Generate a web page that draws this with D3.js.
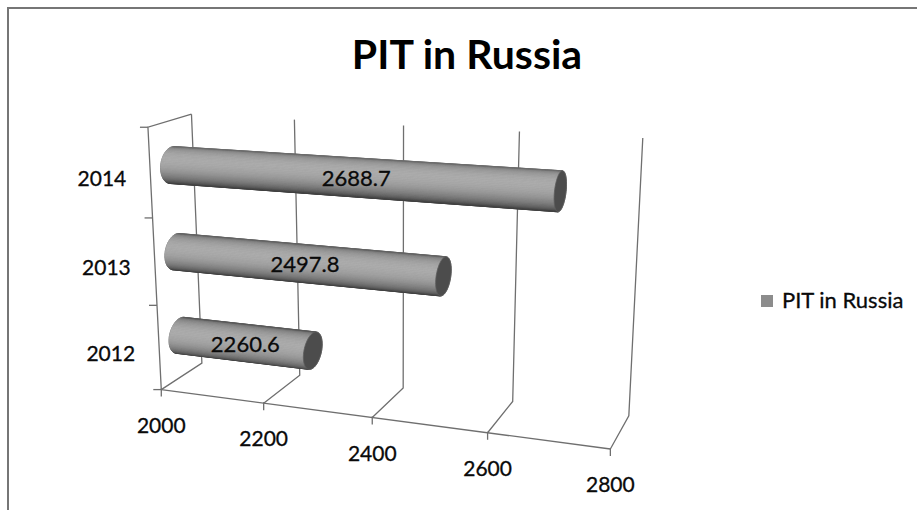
<!DOCTYPE html>
<html>
<head>
<meta charset="utf-8">
<script src="https://cdn.jsdelivr.net/npm/d3@7"></script>
<style>
  html, body { margin: 0; padding: 0; background: #fff; }
  svg { display: block; font-family: Lato, "Open Sans", sans-serif; }
</style>
</head>
<body>
<svg id="chart" width="917" height="510"></svg>
<script>
// ---- data ----
const chartTitle = "PIT in Russia";
const seriesName = "PIT in Russia";
const categories = ["2012", "2013", "2014"];
const values = [2260.6, 2497.8, 2688.7];
const valueTicks = [2000, 2200, 2400, 2600, 2800];

// ---- 3D box: unit cube (value, height, depth) and where its anchors land on screen ----
const boxAnchors = [
  { p: [0, 0, 0],    s: [161, 389] },
  { p: [0.25, 0, 0], s: [264, 403.3] },
  { p: [0.5, 0, 0],  s: [372.5, 418] },
  { p: [0.75, 0, 0], s: [487.3, 433.3] },
  { p: [1, 0, 0],    s: [610, 449] },
  { p: [0, 0, 1],    s: [201.7, 363.3] },
  { p: [0.25, 0, 1], s: [299, 374] },
  { p: [0.5, 0, 1],  s: [405, 386.7] },
  { p: [0.75, 0, 1], s: [512.7, 403.3] },
  { p: [1, 0, 1],    s: [628.3, 415.5] },
  { p: [0, 1, 1],    s: [191, 115.5] },
  { p: [0.25, 1, 1], s: [293.3, 120] },
  { p: [0.5, 1, 1],  s: [405, 125] },
  { p: [0.75, 1, 1], s: [520, 131.7] },
  { p: [1, 1, 1],    s: [642, 137] },
  { p: [0, 1, 0],    s: [148.3, 126.7] }
];

// Least-squares perspective camera (3x4 projective matrix) from the anchors
function fitCamera(anchors) {
  const cx = 450, cy = 260, sc = 300;
  const rows = [], rhs = [];
  anchors.forEach(({ p: [X, Y, Z], s: [u0, v0] }) => {
    const u = (u0 - cx) / sc, v = (v0 - cy) / sc;
    rows.push([X, Y, Z, 1, 0, 0, 0, 0, -u * X, -u * Y, -u * Z]); rhs.push(u);
    rows.push([0, 0, 0, 0, X, Y, Z, 1, -v * X, -v * Y, -v * Z]); rhs.push(v);
  });
  const n = 11;
  const M = d3.range(n).map(() => new Array(n + 1).fill(0));
  rows.forEach((r, k) => {
    for (let i = 0; i < n; i++) {
      for (let j = 0; j < n; j++) M[i][j] += r[i] * r[j];
      M[i][n] += r[i] * rhs[k];
    }
  });
  for (let c = 0; c < n; c++) {
    let piv = c;
    for (let r = c + 1; r < n; r++) if (Math.abs(M[r][c]) > Math.abs(M[piv][c])) piv = r;
    [M[c], M[piv]] = [M[piv], M[c]];
    for (let r = 0; r < n; r++) {
      if (r === c) continue;
      const f = M[r][c] / M[c][c];
      for (let j = c; j <= n; j++) M[r][j] -= f * M[c][j];
    }
  }
  const q = M.map((r, i) => r[n] / r[i]);
  return (X, Y, Z) => {
    const w = q[8] * X + q[9] * Y + q[10] * Z + 1;
    return [cx + sc * (q[0] * X + q[1] * Y + q[2] * Z + q[3]) / w,
            cy + sc * (q[4] * X + q[5] * Y + q[6] * Z + q[7]) / w];
  };
}
const P = fitCamera(boxAnchors);

// ---- scales ----
const x = d3.scaleLinear().domain([2000, 2800]).range([0, 1]);
const y = d3.scalePoint().domain(categories).range([0, 1]).padding(0.5);
const band = y.step();

const svg = d3.select("#chart");
const line = d3.line();

// chart frame
svg.append("rect")
  .attr("x", 8).attr("y", 8).attr("width", 940).attr("height", 540)
  .attr("fill", "none").attr("stroke", "#767676").attr("stroke-width", 2);

// title
svg.append("text")
  .attr("x", 467).attr("y", 69)
  .attr("text-anchor", "middle")
  .attr("font-size", 41).attr("font-weight", 700).attr("fill", "#000")
  .text(chartTitle);

const grid = svg.append("g")
  .attr("fill", "none").attr("stroke", "#6f6f6f").attr("stroke-width", 1.3);

// back wall verticals and floor depth lines at each value tick
valueTicks.forEach(t => {
  const X = x(t);
  grid.append("path").attr("d", line([P(X, 0, 0), P(X, 0, 1), P(X, 1, 1)]));
});
// floor front edge
grid.append("path").attr("d", line([P(0, 0, 0), P(1, 0, 0)]));
// side wall: front vertical (category axis) and top edge
grid.append("path").attr("d", line([P(0, 0, 0), P(0, 1, 0), P(0, 1, 1)]));

// value tick marks
valueTicks.forEach(t => {
  const [u, v] = P(x(t), 0, 0);
  grid.append("path").attr("d", line([[u, v - 1], [u, v + 7]]));
});
// category tick marks at band boundaries
d3.range(categories.length + 1).forEach(i => {
  const [u, v] = P(0, i * band, 0);
  grid.append("path").attr("d", line([[u - 8, v], [u, v]]));
});

// ---- cylinders ----
const RY = 0.068, RZ = 0.27, ZC = 0.5, N = 72;
const shade = phi => {
  const g = Math.round(66 + 106 * Math.max(0, Math.cos(phi - 0.6)));
  return d3.rgb(g, g, g).toString();
};
const bars = svg.append("g");
categories.forEach((c, i) => {
  const Yc = y(c), Xv = x(values[i]);
  const ring = (X, phi) => P(X, Yc + RY * Math.sin(phi), ZC - RZ * Math.cos(phi));
  const phis = d3.range(N + 1).map(k => -Math.PI + 2 * Math.PI * k / N);
  const g = bars.append("g");

  // silhouette
  const pts = [];
  phis.forEach(f => { pts.push(ring(0, f)); pts.push(ring(Xv, f)); });
  g.append("path").attr("d", "M" + d3.polygonHull(pts).join("L") + "Z")
    .attr("fill", "#7a7a7a").attr("stroke", "#6a6a6a").attr("stroke-width", 0.8);

  // shaded side strips facing the viewer
  const quad = (f0, f1) => [ring(0, f0), ring(Xv, f0), ring(Xv, f1), ring(0, f1)];
  const refSign = Math.sign(d3.polygonArea(quad(-0.05, 0.05)));
  for (let k = 0; k < N; k++) {
    const f0 = phis[k], f1 = phis[k + 1];
    const q = quad(f0, f1);
    if (Math.sign(d3.polygonArea(q)) !== refSign) continue;
    const col = shade((f0 + f1) / 2);
    g.append("path").attr("d", "M" + q.join("L") + "Z")
      .attr("fill", col).attr("stroke", col).attr("stroke-width", 0.6);
  }

  // end cap
  g.append("path").attr("d", "M" + phis.map(f => ring(Xv, f)).join("L") + "Z")
    .attr("fill", "#4c4c4c").attr("stroke", "#5e5e5e").attr("stroke-width", 0.8);
});

// data labels
categories.forEach((c, i) => {
  const [u, v] = P(x(values[i]) / 2, y(c), ZC);
  svg.append("text")
    .attr("x", u).attr("y", v + 1).attr("dy", "0.35em")
    .attr("text-anchor", "middle")
    .attr("font-size", 22).attr("fill", "#0a0a0a")
    .attr("stroke", "#0a0a0a").attr("stroke-width", 0.3)
    .text(values[i].toFixed(1));
});

// value axis labels
valueTicks.forEach(t => {
  const [u, v] = P(x(t), 0, 0);
  svg.append("text")
    .attr("x", u).attr("y", v + 36).attr("dy", "0.35em")
    .attr("text-anchor", "middle")
    .attr("font-size", 21).attr("fill", "#0a0a0a")
    .attr("stroke", "#0a0a0a").attr("stroke-width", 0.3)
    .text(t);
});

// category axis labels
categories.forEach(c => {
  const [u, v] = P(0, y(c), 0);
  svg.append("text")
    .attr("x", u - 24).attr("y", v + 6).attr("dy", "0.35em")
    .attr("text-anchor", "end")
    .attr("font-size", 21).attr("fill", "#0a0a0a")
    .attr("stroke", "#0a0a0a").attr("stroke-width", 0.3)
    .text(c);
});

// legend
const legend = svg.append("g").attr("transform", "translate(761,295)");
legend.append("rect").attr("width", 12).attr("height", 12).attr("fill", "#8c8c8c");
legend.append("text").attr("x", 21).attr("y", 13)
  .attr("font-size", 22).attr("fill", "#0a0a0a")
  .attr("stroke", "#0a0a0a").attr("stroke-width", 0.3)
  .text(seriesName);
</script>
</body>
</html>
